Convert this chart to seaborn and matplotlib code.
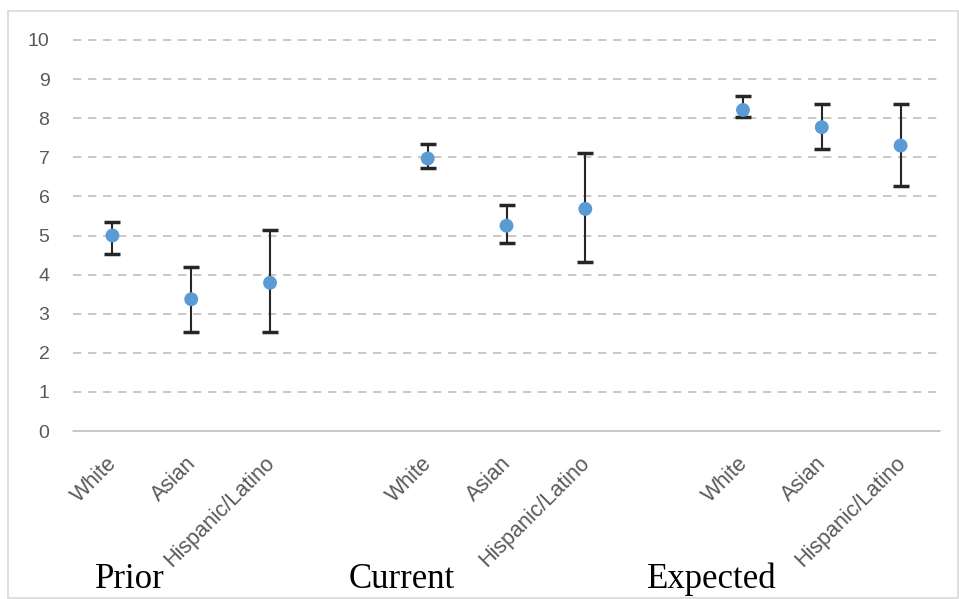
import matplotlib
matplotlib.use("Agg")
import matplotlib.pyplot as plt
import matplotlib.transforms as mtransforms
import seaborn as sns
import pandas as pd
from matplotlib.patches import Rectangle

groups = ["Prior", "Current", "Expected"]
races = ["White", "Asian", "Hispanic/Latino"]
means = [5.0, 3.37, 3.79, 6.97, 5.25, 5.68, 8.21, 7.77, 7.30]
upper = [5.35, 4.20, 5.14, 7.33, 5.77, 7.12, 8.57, 8.36, 8.36]
lower = [4.53, 2.54, 2.54, 6.73, 4.80, 4.31, 8.02, 7.22, 6.26]
yticks = [0, 1, 2, 3, 4, 5, 6, 7, 8, 9, 10]

rows = []
for gi, g in enumerate(groups):
    for ri, r in enumerate(races):
        k = gi * 3 + ri
        rows.append({"group": g, "race": r, "pos": gi * 4 + ri,
                     "mean": means[k], "lo": lower[k], "hi": upper[k]})
df = pd.DataFrame(rows)

sns.set_theme(style="white")
plt.rcParams['font.family'] = ['Liberation Sans', 'DejaVu Sans']

fig = plt.figure(figsize=(9.59, 5.99), dpi=100)
ax = fig.add_axes([73/959, 1 - 431/599, (940 - 73)/959, (431 - 40)/599])

ax.errorbar(df["pos"], df["mean"],
            yerr=[df["mean"] - df["lo"], df["hi"] - df["mean"]],
            fmt="none", ecolor="#262626", elinewidth=1.5, capsize=5.5,
            capthick=2.5, zorder=2)
sns.scatterplot(data=df, x="pos", y="mean", ax=ax, color="#5B9BD5",
                s=100, edgecolor="none", zorder=3, legend=False)

ax.set_xlim(-0.5, 10.5)
ax.set_ylim(0, 10)
ax.set_yticks(yticks)
ax.set_yticklabels([str(t) for t in yticks], color="#595959", fontsize=14)
ax.set_xticks(df["pos"])
ax.set_xticklabels(df["race"], rotation=45, ha="right", va="top",
                   rotation_mode="anchor", color="#595959", fontsize=15.5)
ax.tick_params(axis="x", length=0, pad=12)
ax.tick_params(axis="y", length=0, pad=17)
offset = mtransforms.ScaledTranslation(-6/100, -5/100, fig.dpi_scale_trans)
for lab in ax.get_xticklabels():
    lab.set_transform(lab.get_transform() + offset)

for y in yticks[1:]:
    ax.axhline(y, color="#BFBFBF", lw=1.2, ls=(0, (5, 4)), zorder=1, clip_on=False)
ax.axhline(0, color="#BFBFBF", lw=1.2, zorder=1, clip_on=False)
for s in ax.spines.values():
    s.set_visible(False)
ax.set_xlabel("")
ax.set_ylabel("")

fig.patches.append(Rectangle((8/959, 1 - 598/599), (958 - 8)/959, (598 - 11)/599,
                             transform=fig.transFigure, fill=False,
                             edgecolor="#D9D9D9", lw=1.2))

for name, xc in zip(groups, [130, 402, 712]):
    fig.text(xc/959, 1 - 588/599, name, ha="center", va="baseline",
             fontsize=25, family=["Liberation Serif", "DejaVu Serif"],
             color="black")

fig.savefig("out.png", dpi=100)
